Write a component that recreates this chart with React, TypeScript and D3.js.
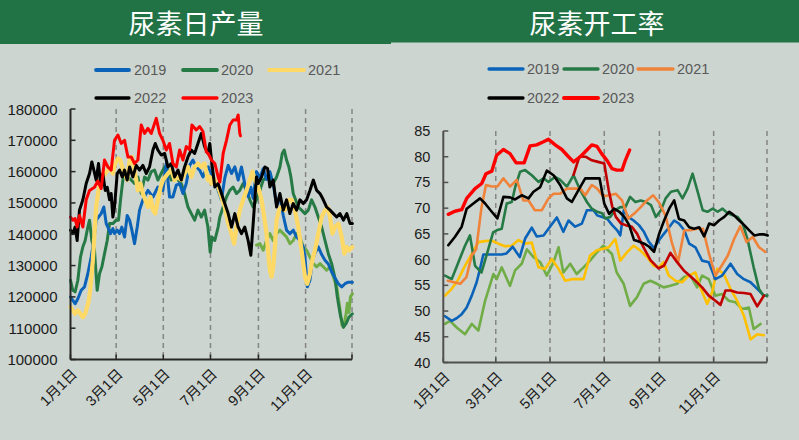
import React, { useEffect } from 'react';
import * as d3 from 'd3';

const W = 799;
const H = 440;

// ---------- axis / tick data ----------
const tickDates = [
  new Date(2023, 0, 1), new Date(2023, 2, 1), new Date(2023, 4, 1),
  new Date(2023, 6, 1), new Date(2023, 8, 1), new Date(2023, 10, 1),
];
const tickLabels = ['1月1日', '3月1日', '5月1日', '7月1日', '9月1日', '11月1日'];
const yearStart = new Date(2023, 0, 1);
const yearEnd = new Date(2023, 11, 31);
const prodTicks = [100000, 110000, 120000, 130000, 140000, 150000, 160000, 170000, 180000];
const rateTicks = [40, 45, 50, 55, 60, 65, 70, 75, 80, 85];
const titles = ['尿素日产量', '尿素开工率'];
const legendYears = ['2019', '2020', '2021', '2022', '2023'];

// ---------- 尿素日产量 (daily, [day of year, value]) ----------
const prod2019: [number, number][] = [
  [0,120000],[3,118900],[6,117800],[9.5,119400],[13.8,122100],[18.1,123200],[22.4,127400],[26.7,132700],[30.2,138000],[33.2,144500],[36.2,145500],[39.7,146600],[43.1,148700],[46.2,143400],[48.3,142300],[51.8,140200],[54.8,141800],[56.9,140200],[60.4,141300],[63.4,140200],[66.4,142300],[69.9,139100],[73.3,146000],[76.4,144500],[79.4,141300],[82.8,137000],[86.3,142300],[89.3,147700],[93.6,151000],[100.1,154000],[106.6,151900],[113,155100],[119.5,154000],[123.8,162600],[128.1,151900],[132.4,151900],[136.8,155700],[141.1,156200],[145.4,153000],[149.7,156200],[154,162000],[158.3,163700],[162.6,161500],[167,160500],[171.3,158300],[175.6,161000],
  [178,161500],[182.3,159400],[186.6,157300],[190.9,154000],[195.2,151000],[199.5,158000],[203.9,162000],[208.2,159400],[212.5,161500],[216.8,157300],[221.1,161500],[225.4,156000],[229.7,152000],[233.2,155000],[236.2,151500],[240.5,160000],[244.9,158000],[249.2,161000],[253.5,157500],[257.8,160000],[262.1,156000],[266.5,149500],[270.8,152000],[275.1,146000],[279.4,141300],[283.7,140200],[288,141300],[292.4,139100],[296.7,138000],[301,135900],[303.2,132700],[306.2,123200],[309.6,125300],[312.7,131700],[316.1,134000],[320.4,136000],[324.8,133500],[329.1,131700],[333.4,130500],[337.7,128000],[342,126000],[346.4,124200],[350.7,123200],[355,124200],[359.3,124700],[364.5,124700],
];
const prod2020: [number, number][] = [
  [0,125300],[3,122100],[6,121600],[9.5,125300],[12.9,132700],[16,136000],[19,138000],[22.4,142300],[24.6,144500],[27.6,138000],[31,134900],[34.5,122100],[37.5,127400],[40.6,129600],[44,133800],[47.5,138000],[50.5,143400],[54.8,143400],[59.1,144500],[62.1,144500],[64.7,151000],[67.7,157300],[70.7,160000],[74.2,158300],[78.5,157300],[82.8,156200],[87.1,158300],[91.5,153000],[95.8,158300],[100.1,157300],[104.4,160000],[108.7,160500],[113,157300],[117.3,159400],[121.7,161500],[126,160500],[130.3,157300],[134.6,159400],[138.9,157300],[143.2,156200],[147.5,153000],[151.9,148700],[156.2,146600],[160.5,144500],[164.8,147700],[169.1,145500],[173.4,147700],[177.7,142300],
  [180.6,134300],[183,139100],[186.6,138000],[190.9,142300],[193.1,145500],[197.4,148700],[201.7,151900],[206,154000],[210.3,155100],[214.6,153000],[218.9,154000],[223.2,156200],[227.6,154000],[231.9,151000],[236.2,148700],[240.5,151000],[244.9,154000],[249.2,157300],[253.5,158300],[257.8,157300],[262.1,156200],[266.5,158300],[270.8,161500],[273.8,165800],[276.4,166900],[279.4,163700],[282.4,161500],[285,158300],[288,153000],[291.1,151000],[294.5,148700],[298.8,147700],[303.2,146600],[307.5,147700],[311.8,151000],[316.1,148700],[320.4,145500],[324.8,142300],[329.1,138000],[333.4,133800],[337.7,130600],[342,126000],[345,120000],[349,114000],[353,110300],[356.5,111500],[360,113500],[364.5,114600],
];
const prod2021: [number, number][] = [
  [0,116800],[3,115700],[6,114600],[9.5,115700],[12.9,114600],[16,113500],[19,114600],[21.6,116800],[23.7,118900],[25.9,123200],[28.9,131700],[31,140200],[33.2,148700],[36.2,154000],[38.8,157300],[41.8,158300],[44.9,159400],[48.3,160500],[51.8,161500],[54.8,159400],[57.8,162600],[61.3,164200],[64.3,163700],[66.9,161500],[69.9,159400],[73.3,157300],[76.4,163700],[79.4,164700],[82,161500],[85,157300],[87.1,154000],[90.6,156200],[93.6,153000],[96.6,151000],[100.1,148700],[103.5,151900],[106.6,147700],[109.6,146600],[113,151000],[116.5,155100],[119.5,157300],[122.5,158300],[126,159400],[130.3,160500],[134.6,157300],[138.9,158300],[143.2,157300],[147.5,159400],[151.9,161500],[156.2,158300],[160.5,161500],[164.8,162600],[169.1,161500],[173.4,162600],[177.7,157300],
  [180.1,158300],[182.3,156200],[186.6,157300],[190.9,155100],[195.2,151900],[199.5,148700],[203.9,143400],[208.2,140200],[211.6,137000],[214.6,142300],[218.9,147700],[223.2,151000],[227.6,154000],[231.9,157300],[235.3,160000],[238.4,157300],[242.7,155100],[247,151000],[250.5,145500],[253.5,140200],[255.7,133800],[257.8,128500],[260,126400],[262.1,129600],[264.3,135900],[266.5,144500],[269.5,147700],[272.9,148700],[277.2,147700],[281.6,151000],[285.9,151000],[290.2,147700],[294.5,142300],[298.8,134900],[303.2,126400],[306.2,124200],[309.6,127400],[312.7,131700],[316.1,134900],[320.4,140200],[324.8,145500],[329.1,147700],[332.5,148700],[335.6,145500],[338.6,140200],[342,142300],[346.4,143400],[350.7,139100],[354.1,133800],[357.2,135900],[360.2,134900],[364.5,135900],
];
const prod2022: [number, number][] = [
  [0,141300],[3,140200],[6,142300],[8.6,138000],[11.6,147700],[16,151000],[20.3,156200],[24.6,159400],[27.6,163100],[30.2,160500],[33.2,157300],[36.2,162600],[38.8,156200],[41.8,159400],[44.9,154000],[47.5,155000],[50.5,151000],[52.6,153000],[54.8,145500],[56.9,148700],[60.4,159400],[63.4,160500],[66.9,158300],[69.9,160500],[73.3,157300],[76.4,161500],[80.7,158300],[85,162000],[89.3,160500],[93.6,162000],[97.9,159400],[102.2,161500],[106.6,166900],[109.6,169000],[113,166900],[117.3,165300],[121.7,165800],[126,161500],[130.3,162600],[134.6,158300],[138.9,160500],[143.2,157300],[147.5,161500],[151.9,164700],[156.2,166900],[160.5,165800],[164.8,169000],[169.1,172200],[173.4,168000],[177.7,165800],
  [180.1,169000],[182.3,163700],[186.6,155100],[190.9,156200],[195.2,153000],[199.5,149800],[203.9,146600],[208.2,142300],[212.5,146600],[216.8,142300],[221.1,140200],[225.4,142300],[229.7,138000],[233.2,133300],[236.2,143400],[240.5,158300],[242.7,156200],[247,158300],[251.3,161500],[254.8,161000],[257.8,155100],[262.1,157300],[266.5,148700],[270.8,153000],[275.1,147700],[279.4,151000],[283.7,146600],[288,149800],[292.4,147700],[296.7,151000],[301,149800],[305.3,151000],[309.6,154000],[314,157300],[318.3,154000],[322.6,153000],[326.9,151000],[331.2,148700],[335.6,147700],[339.9,146600],[344.2,145500],[348.5,146600],[352.9,144500],[357.2,146600],[361.5,143400],[364.5,143400],
];
const prod2023: [number, number][] = [
  [0,145500],[3,144500],[6,145000],[8.6,142300],[11.6,146000],[16,142300],[20.3,151000],[24.6,154000],[31,155000],[35.4,157000],[39.7,154600],[44,163700],[48.3,161500],[52.6,160500],[56.9,170000],[61.3,171700],[65.6,169000],[69.9,170000],[74.2,164700],[78.5,164700],[82.8,162600],[87.1,163700],[91.5,174900],[95.8,172200],[100.1,173800],[104.4,172200],[110.9,177000],[115.2,172200],[119.5,170000],[123.8,166900],[128.1,169000],[132.4,162600],[136.8,161500],[141.1,166900],[145.4,163700],[149.7,168000],[154,167000],[157,174900],[162.6,173300],[167,174400],[171.3,172800],[175.6,166300],[178,165800],[182.3,163700],[186.6,162600],[190.9,158300],[193.1,156700],[197.4,165800],[201.7,170000],[206,174900],[210.3,176500],[214.6,176500],[216.8,178100],[218.9,172200],[219.8,171400],
];
const prod2018: [number, number][] = [
  [240.5,136500],[244.9,137000],[249.2,134900],[253.5,138000],[257.8,140200],[262.1,138000],[266.5,140200],[270.8,141300],[275.1,140200],[279.4,139100],[283.7,137000],[288,138000],[292.4,140200],[296.7,139100],[301,135900],[305.3,134900],[309.6,132700],[314,130600],[318.3,129600],[322.6,130600],[326.9,129600],[331.2,128500],[335.6,129600],[339.9,126400],[344.2,123200],[348.5,116000],[351,111000],[353,110300],[356,114000],[358,118000],[360,115000],[362,120000],[364.5,121000],
];

// ---------- 尿素开工率 (weekly, [day of year, %]) ----------
const rate2019: [number, number][] = [
  [2,49],[9.4,48.1],[15,48.6],[20.7,49.4],[26.3,50.7],[32,53],[37.5,55.6],[41.3,58.2],[45,61],[50.7,61],[58.2,61],[65.7,61],[71,61.2],[78,62.5],[86,60.5],[92,64.1],[99.5,66.2],[105,64.5],[112.7,64.7],[120,66.4],[127.7,68.2],[135,65.4],[140.8,67.6],[148.3,66.4],[155.8,67],[161.5,69.6],[169,69.6],[173,68.6],[178.6,68.3],[184,68],[190,66.7],[195.5,65.7],[199,64.7],[203,69.6],[208,68.3],[214,67.6],[220,66.7],[225.6,65.4],[231,63.5],[237,62.2],[242.7,63.8],[248,65],[254,66.3],[259.6,67.6],[265,67],[271,65.7],[276.5,63.1],[283.5,62.4],[291,59.8],[298.5,59.5],[306,56.2],[313.5,56.9],[323,59.2],[330.5,57.2],[338,56.2],[345.5,55.6],[353,54.3],[360.5,53],
];
const rate2020: [number, number][] = [
  [2,56.9],[9.4,56.2],[17,59.5],[24.4,62.7],[30,64.7],[35.7,58.8],[43,57.5],[50.7,62.1],[56,65.3],[60,65.7],[65.7,66],[71.3,70.9],[77,71.2],[81,74.2],[86.4,77.1],[92,77.4],[99.5,76.4],[107,75.1],[112.7,75.8],[118.3,75.1],[125.8,76.1],[131.4,75.5],[139,74.2],[146.5,76.4],[154,73.5],[161.5,71.2],[167,69.9],[173,69.3],[178.6,69],[182,68],[187.7,68.3],[193.4,69.6],[199,70.2],[204.7,70.2],[210,72.2],[216,71.2],[222,71.5],[227.8,71.2],[233.5,70.6],[239,68.3],[244.7,69.6],[250,71.9],[256,73.2],[263.4,73.5],[269,71.9],[274.7,73.8],[280.3,76.7],[286,73.2],[291.7,69.6],[297,69.3],[302.9,69.9],[308.5,69.3],[314,69.9],[319.8,69],[325.5,68.6],[331,68.3],[336.7,67],[342,64],[349,58.5],[355,54.3],[360,53],[364.5,53],
];
const rate2021: [number, number][] = [
  [5,55.9],[12,55.6],[19,55.3],[26,56.6],[32,60.8],[37,62],[43,70.2],[48,74.5],[54.5,74.2],[60.8,74.2],[67.6,75.8],[75,74.2],[82.6,75.5],[90,71.5],[95.8,71.5],[103,69.6],[110.8,69.6],[118.3,71.9],[124,72.8],[131.4,72.8],[139,73.8],[146.5,73.8],[154,73.8],[159.6,72.5],[167,74.5],[173,73.8],[180,72.3],[187,72.5],[194,72.8],[201,71.5],[208,68],[215,69],[222,70.2],[229,71.5],[236,72.5],[243,71],[250,68.5],[257,63.3],[264,59.5],[271,65.7],[278,65.7],[285,66],[292,66],[299,61],[306,56.9],[313,58.8],[320,60.8],[327,64],[334,66.5],[341,63.4],[348,64.4],[355,62.4],[362,61.5],
];
const rate2022: [number, number][] = [
  [5.6,62.8],[13,64.4],[20.7,66.4],[26.3,69.9],[33.8,70.9],[41.3,71.9],[47,70.9],[54.5,69.3],[60.8,68],[67.6,72.2],[75,72.1],[80.7,71.7],[88.2,72.5],[95.8,71.9],[101.4,73.2],[109,74.1],[116.4,77.3],[124,76.4],[131.4,74.5],[139,71.9],[144.6,71.2],[152,73.5],[159.6,75.8],[169,75.8],[175.7,75.8],[181,70.9],[186.5,68.9],[192,69.9],[198,69.3],[203.5,68.3],[209,66.7],[214.5,63.8],[220,63.5],[226,63.1],[231.5,62.5],[237,61.5],[242.7,65],[248.3,67.6],[254,69.9],[259.6,71.5],[265,67.9],[270.9,67.6],[276.5,66.3],[282,66],[287.7,66.3],[293.3,64.5],[299,67],[304.6,66.7],[310,67.6],[316,68.3],[321.6,69.3],[327,68.6],[332.8,67.6],[338.4,66.7],[344,65.7],[349.7,64.7],[355.3,64.9],[361,64.9],[364.8,64.7],
];
const rate2023: [number, number][] = [
  [5.6,68.8],[13,69.4],[20.7,69.7],[26.3,71.9],[35.7,73.8],[43.2,74.8],[48,76.7],[54.5,77.2],[60,80.3],[67.6,81.4],[75,80.6],[81.9,78.8],[90.9,78.8],[97.6,82.1],[105,82.3],[112.7,82.9],[118.3,83.4],[125.8,82.3],[133.3,81.4],[140.8,80],[146.5,79],[154,80],[161.5,81.3],[167,82.3],[172.8,82],[178,80.6],[184,79.3],[189.7,77.7],[195,77.4],[201,77.4],[204.7,79.3],[209.5,81.3],
];
const rateDarkRed: [number, number][] = [
  [146.5,76.5],[153,80],[160,80],[167,79.3],[174,79],[181,78.7],[186,73.5],[190,70.3],[194,68.3],[200,67],[205,66.7],[212,66.4],[218,65],[223,63.1],[227,61.8],[233,59.9],[242,58.3],[248,58.8],[255.4,61.3],[262.9,59.5],[270.4,57.9],[281.6,56.2],[291,54.6],[298.5,53],[306,52],[311.7,51.2],[317.3,54],[323,54],[330.5,53.6],[338,53.5],[345.5,53.3],[353,50.9],[360.5,53],
];
const rateYellow: [number, number][] = [
  [2,53],[9.4,54.3],[17,56.2],[24.4,58.8],[32,61.1],[39.4,63.4],[47,63.6],[54.5,63.7],[62,63.1],[69.5,62.6],[77,62.7],[84.5,63.8],[92,63.1],[99.5,63.3],[107,58.5],[114.5,58.2],[122,60.1],[129.6,58.2],[137,55.9],[144.6,56.2],[152,56.2],[157.7,56.2],[165,60.8],[172.7,61.8],[180,62.1],[186,62.4],[193.4,64],[199,59.8],[206.5,61.4],[214,62.7],[221.5,61.8],[229,60.5],[236.6,58.8],[242,58.5],[247.8,59.5],[253.5,56.9],[261,55.9],[268.5,55.6],[276,56.9],[283.5,57.5],[289,54.6],[296.7,51.4],[302.3,53.6],[308,58.2],[315.4,57.2],[323,54.3],[330.5,52],[338,49.1],[345.5,44.5],[353,45.5],[360.5,45.3],
];
const rateLightGreen: [number, number][] = [
  [2,47.5],[7.5,48.1],[15,46.8],[24.4,45.5],[32,47.5],[39.4,46.2],[47,52],[56.3,57.2],[60,56.2],[65.7,58.5],[75,54.9],[80.7,57.9],[88.2,59.2],[94,62],[101.4,60.5],[109,59.5],[116.4,56.9],[124,59.5],[129.6,62.4],[135,57.5],[142.7,59.2],[150,57.2],[157.7,58.5],[165,59.8],[172.7,61.4],[180,62.7],[189.6,61.1],[195,57.5],[202.8,55.3],[210,51],[217.8,52.7],[225.3,55.3],[232.8,55.9],[240.3,55.3],[247.8,54.6],[255.3,54.9],[262.9,55.3],[270.4,56.6],[277.9,56.9],[285.4,54.6],[291,56.9],[298.5,56.2],[306,53],[313.5,53.3],[321,52],[328.6,51.7],[336,50.4],[343.6,50.7],[349,46.5],[356.7,47.5],
];

type Series = { data: [number, number][]; color: string; width: number };

const leftSeries: Series[] = [
  { data: prod2018, color: '#70AD47', width: 3 },
  { data: prod2020, color: '#267A45', width: 3 },
  { data: prod2019, color: '#0A63B8', width: 3 },
  { data: prod2021, color: '#FFD966', width: 4.2 },
  { data: prod2022, color: '#000000', width: 3 },
  { data: prod2023, color: '#FF0000', width: 3 },
];
const rightSeries: Series[] = [
  { data: rateLightGreen, color: '#70AD47', width: 2.6 },
  { data: rateYellow, color: '#FFC000', width: 2.6 },
  { data: rate2019, color: '#0A63B8', width: 2.6 },
  { data: rate2020, color: '#267A45', width: 2.6 },
  { data: rate2021, color: '#F0833A', width: 2.6 },
  { data: rateDarkRed, color: '#C00000', width: 2.6 },
  { data: rate2022, color: '#000000', width: 2.6 },
  { data: rate2023, color: '#FF0000', width: 3.4 },
];

const leftLegendColors = ['#0A63B8', '#267A45', '#FFD966', '#000000', '#FF0000'];
const rightLegendColors = ['#0A63B8', '#267A45', '#F0833A', '#000000', '#FF0000'];

const BG = '#CDD5D0';
const HEADER = '#217346';
const LABEL_FONT = '"Liberation Sans", "Noto Sans CJK SC", sans-serif';

const dayToDate = (d: number) => new Date(yearStart.getTime() + d * 86400000);

type PanelProps = {
  x0: number; x1: number; yTop: number; yBot: number;
  domain: [number, number]; ticks: number[];
  series: Series[]; yFont: number; axisColor: string;
};

function Panel({ x0, x1, yTop, yBot, domain, ticks, series, yFont, axisColor }: PanelProps) {
  const x = d3.scaleTime().domain([yearStart, yearEnd]).range([x0, x1]);
  const y = d3.scaleLinear().domain(domain).range([yBot, yTop]);
  const line = d3.line<[number, number]>()
    .x((d) => x(dayToDate(d[0])))
    .y((d) => y(d[1]));
  const gridDates = [...tickDates.slice(1), yearEnd];
  return (
    <g>
      {gridDates.map((d, i) => (
        <line key={'g' + i} x1={x(d)} x2={x(d)} y1={yTop} y2={yBot}
          stroke="#858585" strokeWidth={1.5} strokeDasharray="5,4" />
      ))}
      {series.map((s, i) => (
        <path key={'s' + i} d={line(s.data) || ''} fill="none" stroke={s.color}
          strokeWidth={s.width} strokeLinejoin="round" strokeLinecap="round" />
      ))}
      <line x1={x0} x2={x0} y1={yTop} y2={yBot} stroke={axisColor} strokeWidth={2} />
      <line x1={x0} x2={x1} y1={yBot} y2={yBot} stroke={axisColor} strokeWidth={2} />
      {ticks.map((t) => (
        <g key={'t' + t}>
          <line x1={x0} x2={x0 + 5} y1={y(t)} y2={y(t)} stroke={axisColor} strokeWidth={1.5} />
          <text x={x0 - 13} y={y(t)} textAnchor="end" dominantBaseline="central"
            fontFamily={LABEL_FONT} fontSize={yFont} fill="#1a1a1a">{t}</text>
        </g>
      ))}
      {[...tickDates, yearEnd].map((d, i) => (
        <line key={'xt' + i} x1={x(d)} x2={x(d)} y1={yBot} y2={yBot - 5} stroke={axisColor} strokeWidth={1.5} />
      ))}
      {tickDates.map((d, i) => (
        <text key={'xl' + i} transform={`translate(${x(d) + 4},${yBot + 12}) rotate(-45)`}
          textAnchor="end" dominantBaseline="central"
          fontFamily={LABEL_FONT} fontSize={14.5} fill="#1a1a1a">{tickLabels[i]}</text>
      ))}
    </g>
  );
}

type LegendItem = { x1: number; x2: number; tx: number; y: number; color: string; width: number; label: string };

function Legend({ items }: { items: LegendItem[] }) {
  return (
    <g>
      {items.map((it) => (
        <g key={it.label}>
          <line x1={it.x1} x2={it.x2} y1={it.y} y2={it.y} stroke={it.color} strokeWidth={it.width} strokeLinecap="round" />
          <text x={it.tx} y={it.y} dominantBaseline="central" fontFamily={LABEL_FONT}
            fontSize={14.5} fill="#595959">{it.label}</text>
        </g>
      ))}
    </g>
  );
}

export default function App() {
  useEffect(() => {
    document.body.style.margin = '0';
  }, []);

  const leftLegend: LegendItem[] = [
    { x1: 96, x2: 129, tx: 134, y: 70, color: leftLegendColors[0], width: 3.8, label: legendYears[0] },
    { x1: 183, x2: 217, tx: 221, y: 70, color: leftLegendColors[1], width: 3.8, label: legendYears[1] },
    { x1: 269, x2: 304, tx: 308, y: 70, color: leftLegendColors[2], width: 3.8, label: legendYears[2] },
    { x1: 96, x2: 129, tx: 134, y: 98, color: leftLegendColors[3], width: 3.3, label: legendYears[3] },
    { x1: 183, x2: 217, tx: 221, y: 98, color: leftLegendColors[4], width: 3.3, label: legendYears[4] },
  ];
  const rightLegend: LegendItem[] = [
    { x1: 489, x2: 523, tx: 527, y: 69, color: rightLegendColors[0], width: 3.3, label: legendYears[0] },
    { x1: 564, x2: 598, tx: 602, y: 69, color: rightLegendColors[1], width: 3.3, label: legendYears[1] },
    { x1: 638, x2: 673, tx: 677, y: 69, color: rightLegendColors[2], width: 3.3, label: legendYears[2] },
    { x1: 489, x2: 523, tx: 527, y: 98, color: rightLegendColors[3], width: 3.3, label: legendYears[3] },
    { x1: 564, x2: 598, tx: 602, y: 98, color: rightLegendColors[4], width: 4, label: legendYears[4] },
  ];

  return (
    <svg width={W} height={H} style={{ position: 'absolute', left: 0, top: 0, display: 'block' }}>
      <rect x={0} y={0} width={W} height={H} fill={BG} />
      <rect x={0} y={0} width={391} height={44} fill={HEADER} />
      <rect x={391} y={0} width={W - 391} height={42.5} fill={HEADER} />
      <text x={196} y={34} textAnchor="middle" fontFamily='"Noto Sans CJK SC", sans-serif'
        fontSize={27} fill="#ffffff">{titles[0]}</text>
      <text x={597} y={34} textAnchor="middle" fontFamily='"Noto Sans CJK SC", sans-serif'
        fontSize={27} fill="#ffffff">{titles[1]}</text>
      <Legend items={leftLegend} />
      <Legend items={rightLegend} />
      <Panel x0={70.5} x1={352} yTop={109} yBot={359.5} domain={[100000, 180000]}
        ticks={prodTicks} series={leftSeries} yFont={15} axisColor="#262626" />
      <Panel x0={443.3} x1={767} yTop={131} yBot={362.5} domain={[40, 85]}
        ticks={rateTicks} series={rightSeries} yFont={14.5} axisColor="#505050" />
    </svg>
  );
}
